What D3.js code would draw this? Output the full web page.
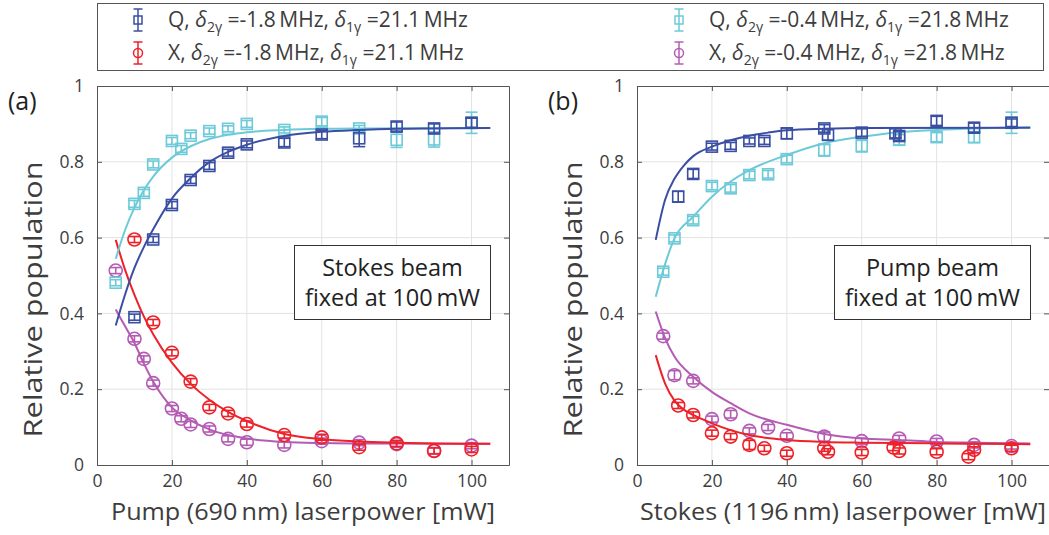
<!DOCTYPE html>
<html>
<head>
<meta charset="utf-8">
<script src="https://cdn.jsdelivr.net/npm/d3@7"></script>
<style>
  body { margin: 0; background: #fff; }
  svg { display: block; font-family: "Open Sans", "Noto Sans", sans-serif; }
</style>
</head>
<body>
<svg id="chart" width="1049" height="535"></svg>
<script>
// ---- data : [power mW, population, error] ----
const xTicks = [0, 20, 40, 60, 80, 100];
const yTicks = [0, 0.2, 0.4, 0.6, 0.8, 1];

// panel (a): pump power scan
const aQ1 = [[10,0.39,0.008],[15,0.595,0.008],[20,0.686,0.009],[25,0.752,0.009],[30,0.789,0.009],[35,0.824,0.009],[40,0.846,0.009],[50,0.851,0.011],[60,0.872,0.011],[70,0.862,0.022],[80,0.893,0.012],[90,0.888,0.012],[100,0.903,0.012]];
const aQ2 = [[5,0.481,0.008],[10,0.689,0.009],[12.5,0.718,0.009],[15,0.793,0.009],[20,0.855,0.009],[22.5,0.834,0.009],[25,0.869,0.008],[30,0.881,0.008],[35,0.887,0.008],[40,0.9,0.009],[50,0.884,0.008],[60,0.906,0.011],[70,0.888,0.008],[80,0.858,0.02],[90,0.859,0.02],[100,0.903,0.028]];
const aX1 = [[10,0.595,0.008],[15,0.376,0.008],[20,0.296,0.008],[25,0.22,0.008],[30,0.152,0.008],[35,0.136,0.008],[40,0.108,0.008],[50,0.079,0.008],[60,0.073,0.008],[70,0.047,0.008],[80,0.057,0.008],[90,0.037,0.008],[100,0.041,0.008]];
const aX2 = [[5,0.513,0.008],[10,0.333,0.008],[12.5,0.28,0.008],[15,0.216,0.008],[20,0.149,0.008],[22.5,0.122,0.008],[25,0.107,0.008],[30,0.095,0.008],[35,0.069,0.008],[40,0.06,0.008],[50,0.053,0.008],[60,0.063,0.008],[70,0.059,0.008],[80,0.055,0.008],[90,0.038,0.008],[100,0.051,0.008]];

const aFitQ1 = [[5,0.368],[7.5,0.45],[10,0.52],[12.5,0.575],[15,0.622],[20,0.703],[25,0.757],[30,0.799],[35,0.826],[40,0.845],[50,0.868],[60,0.879],[70,0.884],[80,0.887],[90,0.888],[105,0.889]];
const aFitQ2 = [[5,0.544],[7.5,0.62],[10,0.679],[12.5,0.725],[15,0.761],[20,0.811],[25,0.841],[30,0.86],[35,0.871],[40,0.878],[50,0.884],[60,0.887],[70,0.888],[105,0.889]];
const aFitX1 = [[5,0.594],[7.5,0.515],[10,0.449],[12.5,0.392],[15,0.345],[20,0.27],[25,0.214],[30,0.172],[35,0.14],[40,0.116],[50,0.082],[60,0.068],[70,0.062],[80,0.059],[90,0.057],[105,0.056]];
const aFitX2 = [[5,0.41],[7.5,0.366],[10,0.322],[12.5,0.268],[15,0.22],[20,0.152],[25,0.118],[30,0.094],[35,0.079],[40,0.07],[50,0.061],[60,0.058],[70,0.057],[105,0.056]];

// panel (b): stokes power scan
const bQ1 = [[11,0.708,0.014],[15,0.768,0.012],[20,0.84,0.009],[25,0.842,0.009],[30,0.855,0.008],[34,0.855,0.009],[40,0.875,0.014],[50,0.888,0.01],[51,0.871,0.014],[60,0.877,0.01],[69,0.875,0.012],[70,0.868,0.012],[80,0.908,0.012],[90,0.89,0.012],[100,0.903,0.01]];
const bQ2 = [[7,0.51,0.009],[10,0.598,0.009],[15,0.646,0.01],[20,0.736,0.01],[25,0.73,0.01],[30,0.765,0.01],[35,0.767,0.01],[40,0.807,0.01],[50,0.831,0.016],[60,0.842,0.016],[70,0.858,0.014],[80,0.865,0.012],[90,0.865,0.014],[100,0.903,0.028]];
const bX1 = [[11,0.157,0.008],[15,0.132,0.008],[20,0.084,0.008],[25,0.075,0.008],[30,0.053,0.012],[34,0.044,0.008],[40,0.031,0.008],[50,0.044,0.008],[51,0.035,0.008],[60,0.033,0.008],[68.5,0.046,0.008],[70,0.037,0.008],[80,0.035,0.008],[88.5,0.022,0.008],[90,0.04,0.008],[100,0.044,0.008]];
const bX2 = [[7,0.34,0.008],[10,0.237,0.012],[15,0.222,0.008],[20,0.121,0.008],[25,0.134,0.01],[30,0.09,0.008],[35,0.099,0.008],[40,0.077,0.008],[50,0.075,0.012],[60,0.063,0.008],[70,0.07,0.008],[80,0.062,0.008],[90,0.053,0.008],[100,0.05,0.008]];

const bFitQ1 = [[5,0.594],[7.5,0.70],[10,0.755],[12.5,0.79],[15,0.815],[20,0.84],[25,0.857],[30,0.869],[35,0.877],[40,0.883],[50,0.887],[60,0.889],[105,0.89]];
const bFitQ2 = [[5,0.444],[7.5,0.53],[10,0.598],[15,0.655],[20,0.708],[25,0.748],[30,0.778],[40,0.818],[50,0.849],[60,0.866],[70,0.878],[80,0.884],[90,0.888],[105,0.891]];
const bFitX1 = [[5,0.29],[7.5,0.215],[10,0.17],[12.5,0.146],[15,0.132],[20,0.11],[25,0.092],[30,0.079],[40,0.066],[50,0.061],[60,0.059],[80,0.057],[105,0.055]];
const bFitX2 = [[5,0.405],[7.5,0.335],[10,0.286],[15,0.233],[20,0.193],[25,0.163],[30,0.136],[40,0.106],[50,0.082],[60,0.07],[70,0.066],[80,0.061],[90,0.059],[105,0.057]];

const colors = { q1: "#3a4fa3", q2: "#6dcad8", x1: "#ee2129", x2: "#b45bb4" };
const textColor = "#3d3d3d";
const axisColor = "#555";

const svg = d3.select("#chart");

// legend
const legend = svg.append("g");
legend.append("rect")
  .attr("x", 97.5).attr("y", 3.5)
  .attr("width", 946).attr("height", 67)
  .attr("fill", "#fff").attr("stroke", axisColor).attr("stroke-width", 1);

const legendItems = [
  { key: "q1", shape: "square", lbl: "Q", d2: "-1.8", d1: "21.1", x: 138, y: 20 },
  { key: "x1", shape: "circle", lbl: "X", d2: "-1.8", d1: "21.1", x: 138, y: 53 },
  { key: "q2", shape: "square", lbl: "Q", d2: "-0.4", d1: "21.8", x: 679, y: 20 },
  { key: "x2", shape: "circle", lbl: "X", d2: "-0.4", d1: "21.8", x: 679, y: 53 }
];

legendItems.forEach((it) => {
  const c = colors[it.key];
  const g = legend.append("g").attr("stroke", c).attr("stroke-width", 1.5).attr("fill", "none");
  g.append("line").attr("x1", it.x).attr("x2", it.x).attr("y1", it.y - 11).attr("y2", it.y + 11);
  g.append("line").attr("x1", it.x - 4.5).attr("x2", it.x + 4.5).attr("y1", it.y - 11).attr("y2", it.y - 11);
  g.append("line").attr("x1", it.x - 4.5).attr("x2", it.x + 4.5).attr("y1", it.y + 11).attr("y2", it.y + 11);
  if (it.shape === "square") {
    g.append("rect").attr("x", it.x - 4).attr("y", it.y - 4).attr("width", 8).attr("height", 8);
  } else {
    g.append("circle").attr("cx", it.x).attr("cy", it.y).attr("r", 4.5);
  }
  const t = legend.append("text")
    .attr("x", it.x + 30).attr("y", it.y + 7)
    .attr("fill", textColor).style("font-size", "21px");
  t.append("tspan").text(it.lbl + ", ");
  t.append("tspan").attr("font-style", "italic").text("δ");
  t.append("tspan").attr("dy", 5).style("font-size", "14px").text("2γ");
  t.append("tspan").attr("dy", -5).text(" =" + it.d2 + "\u2009MHz, ");
  t.append("tspan").attr("font-style", "italic").text("δ");
  t.append("tspan").attr("dy", 5).style("font-size", "14px").text("1γ");
  t.append("tspan").attr("dy", -5).text(" =" + it.d1 + "\u2009MHz");
});

// one panel
function drawPanel(p) {
  const top = 86, bottom = 465;
  const x = d3.scaleLinear().domain([0, 110]).range([p.left, p.left + 412]);
  const y = d3.scaleLinear().domain([0, 1]).range([bottom, top]);
  const w = 412;
  const g = svg.append("g");

  // grid
  g.append("g").selectAll("line").data(xTicks.slice(1)).enter().append("line")
    .attr("x1", (d) => x(d)).attr("x2", (d) => x(d))
    .attr("y1", top).attr("y2", bottom)
    .attr("stroke", "#e3e3e3").attr("stroke-width", 1);
  g.append("g").selectAll("line").data(yTicks.slice(1, -1)).enter().append("line")
    .attr("x1", p.left).attr("x2", p.left + w)
    .attr("y1", (d) => y(d)).attr("y2", (d) => y(d))
    .attr("stroke", "#e3e3e3").attr("stroke-width", 1);

  // axes with inward ticks
  const ax = g.append("g").attr("transform", `translate(0,${bottom})`)
    .call(d3.axisBottom(x).tickValues(xTicks).tickSize(-5).tickPadding(10).tickSizeOuter(0));
  const ay = g.append("g").attr("transform", `translate(${p.left},0)`)
    .call(d3.axisLeft(y).tickValues(yTicks).tickSize(-5).tickPadding(13).tickSizeOuter(0).tickFormat(d3.format("~g")));
  const at = g.append("g").attr("transform", `translate(0,${top})`)
    .call(d3.axisTop(x).tickValues(xTicks).tickSize(-5).tickSizeOuter(0).tickFormat(""));
  const ar = g.append("g").attr("transform", `translate(${p.left + w},0)`)
    .call(d3.axisRight(y).tickValues(yTicks).tickSize(-5).tickSizeOuter(0).tickFormat(""));
  [ax, ay, at, ar].forEach((a) => {
    a.selectAll("path, line").attr("stroke", axisColor);
    a.selectAll("text").attr("fill", textColor).style("font-size", "17.5px").style("font-family", "'Open Sans', sans-serif");
  });

  // series
  const line = d3.line().x((d) => x(d[0])).y((d) => y(d[1])).curve(d3.curveMonotoneX);
  p.series.forEach((s) => {
    const c = colors[s.key];
    const sg = g.append("g");
    sg.append("path").datum(s.fit)
      .attr("d", line).attr("fill", "none")
      .attr("stroke", c).attr("stroke-width", 2);
    const pts = sg.selectAll("g.pt").data(s.pts).enter().append("g")
      .attr("class", "pt")
      .attr("stroke", c).attr("stroke-width", 1.6).attr("fill", "none");
    pts.append("line")
      .attr("x1", (d) => x(d[0])).attr("x2", (d) => x(d[0]))
      .attr("y1", (d) => y(d[1] - d[2])).attr("y2", (d) => y(d[1] + d[2]));
    pts.append("line")
      .attr("x1", (d) => x(d[0]) - 6).attr("x2", (d) => x(d[0]) + 6)
      .attr("y1", (d) => y(d[1] - d[2])).attr("y2", (d) => y(d[1] - d[2]));
    pts.append("line")
      .attr("x1", (d) => x(d[0]) - 6).attr("x2", (d) => x(d[0]) + 6)
      .attr("y1", (d) => y(d[1] + d[2])).attr("y2", (d) => y(d[1] + d[2]));
    if (s.shape === "square") {
      pts.append("rect")
        .attr("x", (d) => x(d[0]) - 5.5).attr("y", (d) => y(d[1]) - 5.5)
        .attr("width", 11).attr("height", 11);
    } else {
      pts.append("circle")
        .attr("cx", (d) => x(d[0])).attr("cy", (d) => y(d[1])).attr("r", 6.5);
    }
  });

  // note box
  g.append("rect")
    .attr("x", p.left + 197.5).attr("y", 245.5)
    .attr("width", 196).attr("height", 74)
    .attr("fill", "#fff").attr("stroke", "#333").attr("stroke-width", 1);
  p.note.forEach((ln, i) => {
    g.append("text")
      .attr("x", p.left + 295.5).attr("y", 276 + i * 30)
      .attr("text-anchor", "middle")
      .attr("fill", "#222").style("font-size", "23.5px")
      .text(ln);
  });

  // labels
  g.append("text")
    .attr("x", p.left + w / 2).attr("y", 520)
    .attr("text-anchor", "middle").attr("fill", textColor)
    .attr("textLength", p.xlen).attr("lengthAdjust", "spacingAndGlyphs")
    .style("font-size", "24px").text(p.xlabel);
  g.append("text")
    .attr("transform", `translate(${p.left - 65},${(86 + 465) / 2 + 24}) rotate(-90)`)
    .attr("text-anchor", "middle").attr("dominant-baseline", "central")
    .attr("textLength", 276).attr("lengthAdjust", "spacingAndGlyphs")
    .attr("fill", textColor).style("font-size", "25px").text("Relative population");
  g.append("text")
    .attr("x", p.left - 89).attr("y", 110)
    .attr("fill", "#222").style("font-size", "25px").text(p.tag);
}

drawPanel({
  left: 97, tag: "(a)", xlen: 384,
  xlabel: "Pump (690\u2009nm) laserpower [mW]",
  note: ["Stokes beam", "fixed at 100\u2009mW"],
  series: [
    { key: "x2", shape: "circle", pts: aX2, fit: aFitX2 },
    { key: "x1", shape: "circle", pts: aX1, fit: aFitX1 },
    { key: "q2", shape: "square", pts: aQ2, fit: aFitQ2 },
    { key: "q1", shape: "square", pts: aQ1, fit: aFitQ1 }
  ]
});

drawPanel({
  left: 637, tag: "(b)", xlen: 406,
  xlabel: "Stokes (1196\u2009nm) laserpower [mW]",
  note: ["Pump beam", "fixed at 100\u2009mW"],
  series: [
    { key: "x2", shape: "circle", pts: bX2, fit: bFitX2 },
    { key: "x1", shape: "circle", pts: bX1, fit: bFitX1 },
    { key: "q2", shape: "square", pts: bQ2, fit: bFitQ2 },
    { key: "q1", shape: "square", pts: bQ1, fit: bFitQ1 }
  ]
});
</script>
</body>
</html>
